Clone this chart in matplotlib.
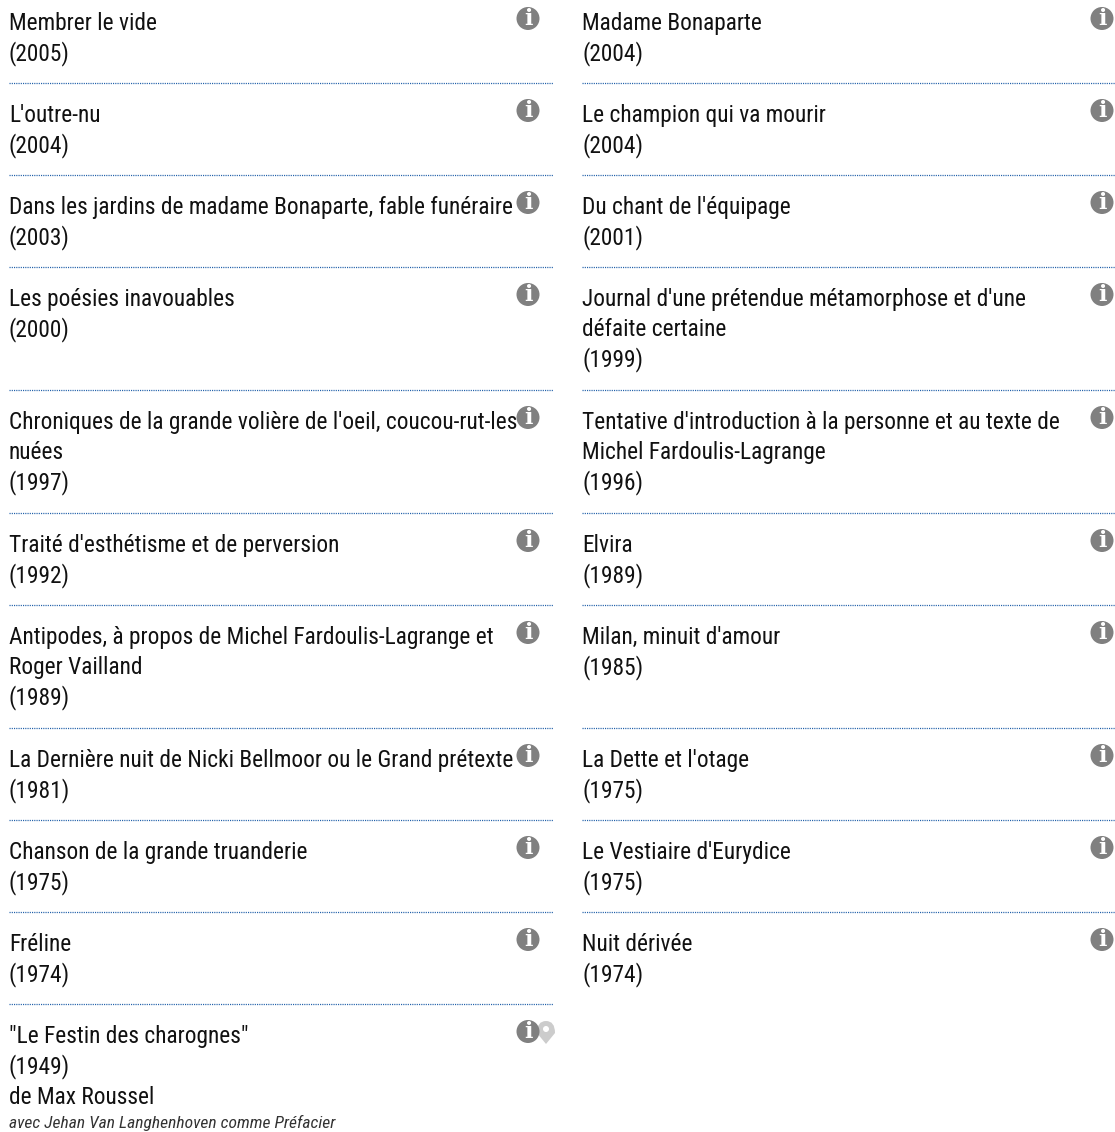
import matplotlib
matplotlib.use('Agg')
import matplotlib.pyplot as plt
from matplotlib.patches import Circle, PathPatch
from matplotlib.path import Path

W, H = 1115, 1132

left_titles = ["Membrer le vide", "L'outre-nu", "Dans les jardins de madame Bonaparte, fable funéraire",
               "Les poésies inavouables", "Chroniques de la grande volière de l'oeil, coucou-rut-les\nnuées",
               "Traité d'esthétisme et de perversion",
               "Antipodes, à propos de Michel Fardoulis-Lagrange et\nRoger Vailland",
               "La Dernière nuit de Nicki Bellmoor ou le Grand prétexte", "Chanson de la grande truanderie",
               "Fréline", "\"Le Festin des charognes\""]
left_years = [2005, 2004, 2003, 2000, 1997, 1992, 1989, 1981, 1975, 1974, 1949]
right_titles = ["Madame Bonaparte", "Le champion qui va mourir", "Du chant de l'équipage",
                "Journal d'une prétendue métamorphose et d'une\ndéfaite certaine",
                "Tentative d'introduction à la personne et au texte de\nMichel Fardoulis-Lagrange",
                "Elvira", "Milan, minuit d'amour", "La Dette et l'otage", "Le Vestiaire d'Eurydice", "Nuit dérivée"]
right_years = [2004, 2004, 2001, 1999, 1996, 1989, 1985, 1975, 1975, 1974]
extra_line = "de Max Roussel"
extra_note = "avec Jehan Van Langhenhoven comme Préfacier"

# rows are shared between both columns, the taller entry decides the height
LINE = 30.2
COL_X = [9, 582]
ICON_X = [528, 1102]
SEP_X = [(9, 553), (582, 1115)]
FONT = ['Roboto Condensed', 'Roboto', 'DejaVu Sans']
FS = 16.85
INK = '#111111'
DOTS = (0, (0.9, 0.9))


def n_lines(title):
    return title.count('\n') + 2


def info_icon(ax, x, y):
    ax.add_patch(Circle((x, y), 11.5, fc='#808080', ec='none', zorder=3))
    ax.text(x, y + 0.5, 'i', color='white', fontsize=16, fontweight='bold', family='DejaVu Serif',
            ha='center', va='center', zorder=4)


def pin_icon(ax, x, y):
    verts = [(x, y + 12), (x - 9, y + 1), (x - 9, y - 11), (x, y - 11),
             (x + 9, y - 11), (x + 9, y + 1), (x, y + 12), (x, y + 12)]
    codes = [Path.MOVETO, Path.LINETO, Path.CURVE3, Path.CURVE3, Path.CURVE3, Path.CURVE3, Path.LINETO, Path.CLOSEPOLY]
    ax.add_patch(PathPatch(Path(verts, codes), fc='#cccccc', ec='none', zorder=2))
    ax.add_patch(Circle((x, y - 3), 3, fc='white', ec='none', zorder=3))


def draw_entry(ax, col, top, title, year):
    y = top + 39.2
    for part in title.split('\n'):
        ax.text(COL_X[col], y, part, fontsize=FS, family=FONT, color=INK, va='baseline')
        y += LINE
    ax.text(COL_X[col], y, '(%d)' % year, fontsize=FS, family=FONT, color=INK, va='baseline')
    info_icon(ax, ICON_X[col], top + 27.5)
    return y + LINE


def separator(ax, col, y):
    ax.plot(SEP_X[col], [y - 0.5] * 2, color='#1f5fa8', lw=0.9, ls=DOTS)


fig = plt.figure(figsize=(W / 100, H / 100), dpi=100)
ax = fig.add_axes([0, 0, 1, 1])
ax.set_xlim(0, W)
ax.set_ylim(H, 0)
ax.axis('off')

top = -9
for i in range(len(left_titles)):
    right_t = right_titles[i] if i < len(right_titles) else None
    y = draw_entry(ax, 0, top, left_titles[i], left_years[i])
    if right_t:
        draw_entry(ax, 1, top, right_t, right_years[i])
    rows = max(n_lines(left_titles[i]), n_lines(right_t) if right_t else 0)
    bottom = top + 92 + 31 * (rows - 2)
    if i < len(left_titles) - 1:
        separator(ax, 0, bottom)
        if i < len(right_titles) - 1:
            separator(ax, 1, bottom)
        top = bottom

pin_icon(ax, ICON_X[0] + 18, top + 28)
ax.text(COL_X[0], y, extra_line, fontsize=FS, family=FONT, color=INK, va='baseline')
ax.text(COL_X[0], y + 24.5, extra_note, fontsize=12.6, style='italic', family=FONT, color='#333333', va='baseline')

fig.savefig('out.png', dpi=100)
